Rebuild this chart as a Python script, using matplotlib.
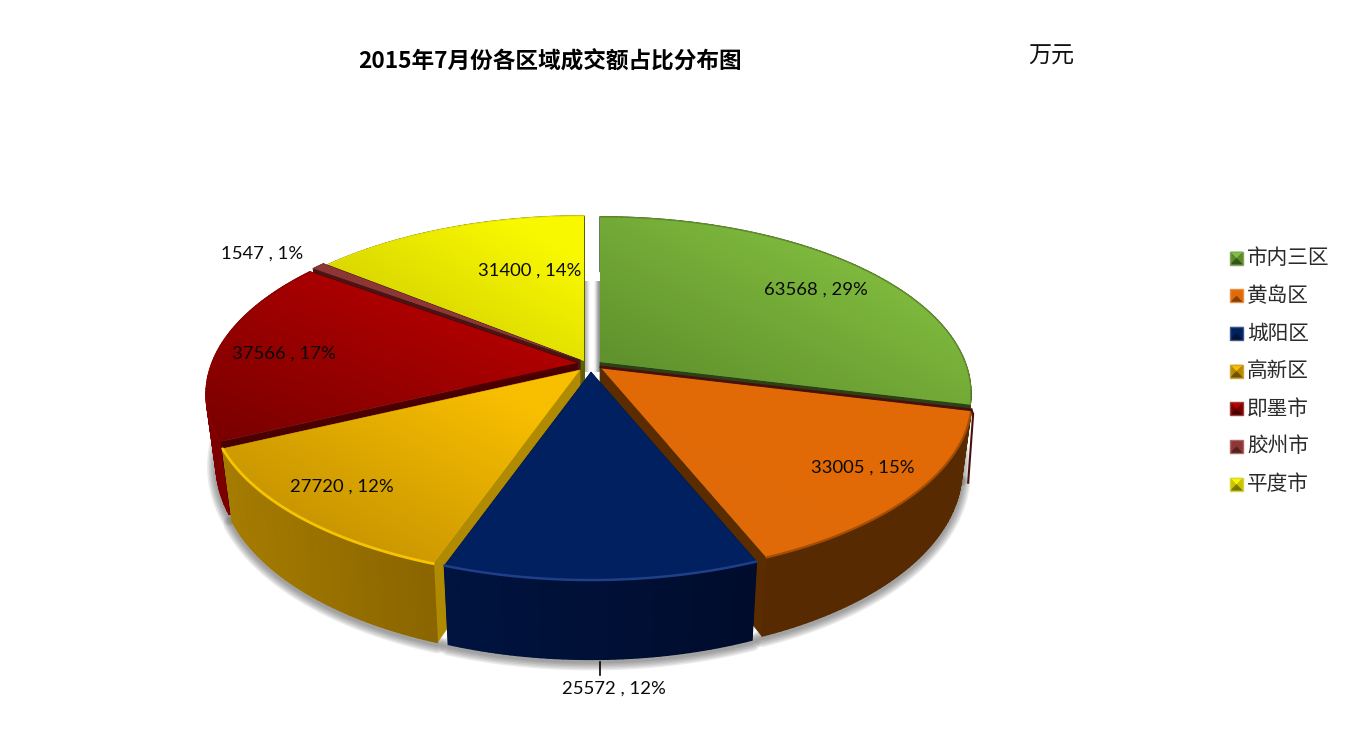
import numpy as np
import matplotlib
matplotlib.use("Agg")
import matplotlib.pyplot as plt
from matplotlib.colors import to_rgb
from matplotlib.patches import Polygon

plt.rcParams['font.family'] = ['Noto Sans CJK SC', 'DejaVu Sans']

regions = ["市内三区", "黄岛区", "城阳区", "高新区", "即墨市", "胶州市", "平度市"]
amounts = [63568, 33005, 25572, 27720, 37566, 1547, 31400]
percents = [29, 15, 12, 12, 17, 1, 14]
title = "2015年7月份各区域成交额占比分布图"
unit = "万元"

# apex of every slice, in pixels (the pie is exploded)
apex_x = [600, 601, 591, 580, 577, 580, 584]
apex_y = [362, 368, 372, 370, 363, 360, 361]
label_x = [816, 863, 614, 342, 284, 262, 530]
label_y = [290, 468, 689, 487, 354, 254, 271]

# light end, dark end of the top face gradient
top_light = ["#84c040", "#e26a06", "#00205f", "#f8be00", "#b80000", "#8e3636", "#f8f800"]
top_dark = ["#5a8a2a", "#e06a08", "#00205f", "#b88800", "#780000", "#8e3636", "#c8c400"]
wall_left = ["#2c4213", "#572a02", "#001440", "#a67c00", "#7c0000", "#481414", "#5f6000"]
wall_right = ["#2c4213", "#572a02", "#000c2c", "#8a6500", "#7c0000", "#481414", "#5f6000"]
radial_wall = ["#2c4213", "#5a2c00", "#001440", "#b08a00", "#4a0000", "#481414", "#5f6000"]
rim = ["#5f8c2c", "#a34d05", "#1f3f88", "#f7c400", "#8c0000", "#8e3636", "#e8e800"]
rim_width = [1.0, 1.6, 1.8, 2.0, 1.0, 1.0, 0.8]
draw_order = [6, 0, 5, 4, 3, 1, 2]

RX, RY, P = 365, 171, 0.178
SC = 0.973
D0, D1 = 68, 17


def project(theta, cx, cy, bottom=False):
    t = np.radians(theta)
    u, v = np.sin(t), np.cos(t)
    s = 1 / (1 + P * v)
    x, y = RX * u * s, -RY * v * s
    if bottom:
        return cx + x * SC, cy + D0 - D1 * v + y * SC
    return cx + x, cy + y


def mix(a, b, t):
    a, b = np.array(to_rgb(a)), np.array(to_rgb(b))
    return a + (b - a) * t


fig = plt.figure(figsize=(13.5, 7.42), dpi=100)
ax = fig.add_axes([0, 0, 1, 1])

edges = np.cumsum([0] + amounts) / sum(amounts) * 360

# soft shadow under the pie
for i in range(len(amounts)):
    th = np.linspace(edges[i], edges[i + 1], 80)
    bx, by = project(th, apex_x[i], apex_y[i], bottom=True)
    vis = np.cos(np.radians(th)) < 0.3
    for lw in [13, 11, 9, 7, 5, 3]:
        ax.plot(bx[vis], by[vis] + 2, color="#404040", lw=lw, alpha=0.10, zorder=1,
                solid_capstyle="round")

# shadow inside the gap at the top
gap = np.array([0.68, 0.78, 0.9, 1, 1, 1, 0.9, 0.72, 0.58])[None, :]
ax.imshow(gap, extent=(584, 600, 372, 281), cmap="gray", vmin=0, vmax=1, aspect="auto",
          interpolation="bilinear", zorder=1)

grid_x, grid_y = np.meshgrid(np.linspace(0, 1, 64), np.linspace(1, 0, 64))
ramp = np.clip((grid_x + grid_y) / 2 * 1.2, 0, 1)

z = 2
for i in draw_order:
    cx, cy = apex_x[i], apex_y[i]
    a0, a1 = edges[i], edges[i + 1]

    # the two cut faces
    for a in (a0, a1):
        tx, ty = project(a, cx, cy)
        bx, by = project(a, cx, cy, bottom=True)
        ax.add_patch(Polygon([(cx, cy), (tx, ty), (bx, by), (cx, cy + D0)], closed=True,
                             fc=radial_wall[i], ec=radial_wall[i], lw=0.5, zorder=z))
        z += 1

    # outer wall, solid first so the strips leave no seams
    th = np.arange(a0, a1 + 1, 1.0)
    th[-1] = a1
    tx, ty = project(th, cx, cy)
    bx, by = project(th, cx, cy, bottom=True)
    ax.fill(np.r_[tx, bx[::-1]], np.r_[ty, by[::-1]], fc=mix(wall_left[i], wall_right[i], 0.5),
            ec="none", zorder=z)
    z += 1
    for k in range(len(th) - 1):
        col = mix(wall_left[i], wall_right[i], (tx[k] - tx.min()) / (np.ptp(tx) + 1))
        ax.fill([tx[k], tx[k + 1], bx[k + 1], bx[k]], [ty[k], ty[k + 1], by[k + 1], by[k]],
                fc=col, ec=col, lw=1.0, zorder=z)
    z += 1

    # top face
    xs = np.r_[cx, tx]
    ys = np.r_[cy, ty]
    face = Polygon(np.c_[xs, ys], closed=True, fc="none", ec="none", zorder=z)
    ax.add_patch(face)
    rgb = np.dstack([to_rgb(top_dark[i])[c] + (to_rgb(top_light[i])[c] - to_rgb(top_dark[i])[c]) * ramp
                     for c in range(3)])
    img = ax.imshow(rgb, extent=(xs.min(), xs.max(), ys.max(), ys.min()), aspect="auto",
                    interpolation="bilinear", zorder=z)
    img.set_clip_path(face)
    z += 1
    ax.plot(tx, ty, color=rim[i], lw=rim_width[i], zorder=z, solid_capstyle="round")
    z += 1

    # dark seam along the back of the orange slice
    if i == 1:
        sx, sy = project(a0, cx, cy)
        ax.plot([cx, sx], [cy - 1, sy - 1], color="#4a1010", lw=2, zorder=z)
        ax.plot([sx, sx + 2, sx - 3], [sy - 1, sy + 3, sy + 72], color="#4a1010", lw=1.5, zorder=z)
        z += 1

# leader line
ax.plot([600, 600], [662, 675], color="black", lw=1.2, zorder=z)

for i in range(len(amounts)):
    ax.text(label_x[i], label_y[i], f"{amounts[i]} , {percents[i]}%", family="Lato", fontsize=13.3,
            ha="center", va="center", color="#0a0a0a", zorder=z + 1)

ax.text(550, 62, title, fontsize=16.3, fontweight="bold", ha="center", va="center", color="black")
ax.text(1051, 56, unit, fontsize=16.6, ha="center", va="center", color="#111111")

# legend, small bevelled squares
leg_y = np.arange(len(regions)) * 37.7 + 258
for i, name in enumerate(regions):
    yc = leg_y[i]
    x0, x1, y0, y1 = 1230, 1243, yc - 6.5, yc + 6.5
    mid = ((x0 + x1) / 2, yc)
    square = [(x0, y0), (x1, y0), (x1, y1), (x0, y1)]
    ax.add_patch(Polygon(square, fc=top_dark[i], ec="none", zorder=z))
    ax.add_patch(Polygon([(x0, y0), (x1, y0), mid], fc=top_light[i], ec="none", zorder=z))
    ax.add_patch(Polygon([(x0, y1), (x1, y1), mid], fc=mix(top_dark[i], "#000000", 0.4), ec="none", zorder=z))
    ax.add_patch(Polygon(square, fc="none", ec=mix(top_dark[i], "#ffffff", 0.25), lw=1.0, zorder=z + 1))
    ax.text(1247, yc, name, fontsize=14.9, ha="left", va="center", color="#2a2a2a", fontweight="light")

ax.set_xlim(0, 1350)
ax.set_ylim(742, 0)
ax.axis("off")
fig.savefig("out.png", dpi=100)
